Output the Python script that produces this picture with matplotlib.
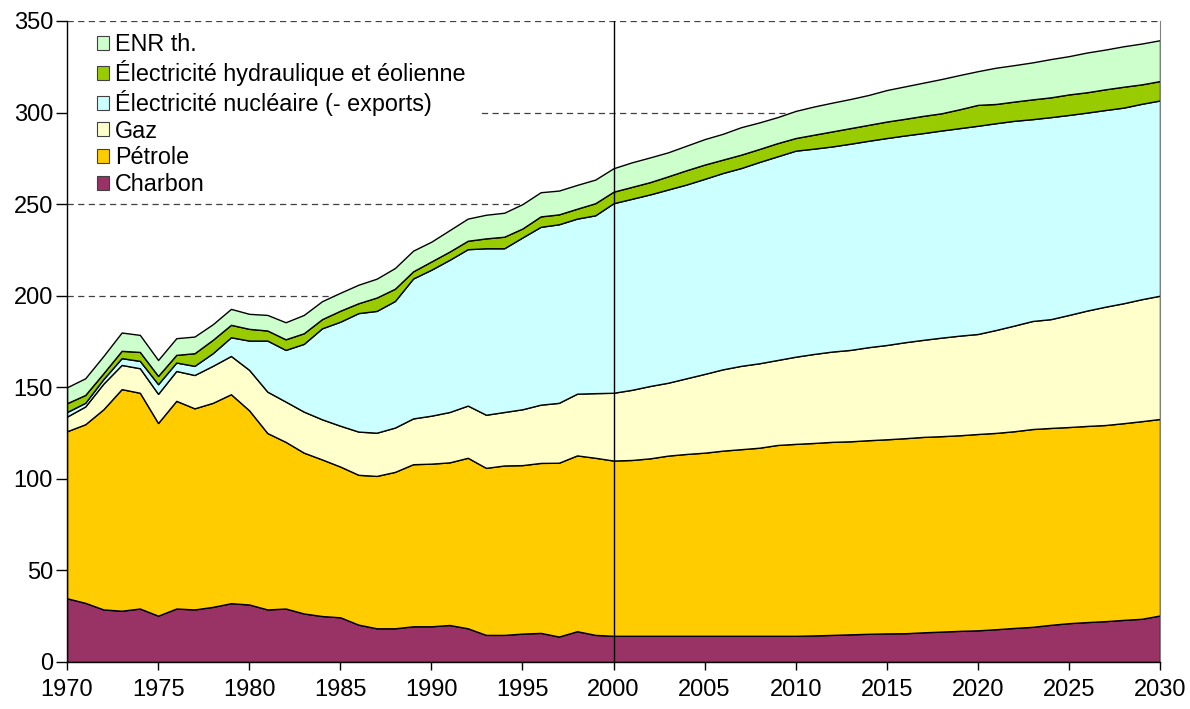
import matplotlib.pyplot as plt
from matplotlib.patches import Rectangle
import numpy as np

plt.rcParams['font.family'] = ['Liberation Sans', 'DejaVu Sans']

years = np.arange(1970, 2031)

charbon = [34.8, 32.3, 28.7, 28.0, 29.2, 25.3, 29.2, 28.7, 30.1, 32.1,
           31.4, 28.7, 29.2, 26.5, 25.1, 24.4, 20.4, 18.4, 18.4, 19.5,
           19.5, 20.2, 18.4, 14.8, 14.8, 15.5, 15.9, 13.9, 16.8, 14.8,
           14.3, 14.3, 14.3, 14.3, 14.3, 14.3, 14.3, 14.3, 14.3, 14.3,
           14.3, 14.5, 14.8, 15.1, 15.4, 15.6, 15.7, 16.2, 16.6, 17.0,
           17.3, 17.9, 18.6, 19.2, 20.3, 21.2, 21.8, 22.3, 23.0, 23.6,
           25.4]
petrole = [91.2, 97.5, 109.3, 121.0, 117.8, 105.2, 113.4, 109.8, 111.4, 114.1,
           106.0, 96.3, 91.0, 87.8, 85.5, 82.3, 81.8, 83.2, 85.4, 88.5,
           88.8, 88.8, 93.1, 91.2, 92.5, 92.0, 92.8, 94.9, 96.0, 96.7,
           95.7, 96.0, 96.9, 98.4, 99.3, 100.0, 101.1, 101.9, 102.7, 104.2,
           104.8, 105.1, 105.4, 105.4, 105.7, 106.0, 106.5, 106.7, 106.7, 106.8,
           107.2, 107.2, 107.4, 108.0, 107.5, 107.1, 107.1, 107.1, 107.4, 107.9,
           107.3]
gaz = [8.0, 9.7, 14.0, 13.2, 13.4, 15.9, 16.3, 18.2, 20.2, 20.9,
       22.1, 22.6, 22.0, 22.4, 21.9, 22.3, 23.6, 23.6, 24.2, 25.0,
       26.2, 27.5, 28.5, 29.0, 29.2, 30.5, 31.8, 32.7, 33.7, 35.3,
       37.0, 38.3, 39.5, 39.8, 41.3, 43.0, 44.4, 45.5, 46.1, 46.4,
       47.6, 48.6, 49.3, 49.9, 50.8, 51.5, 52.4, 53.0, 53.8, 54.4,
       54.6, 56.2, 57.7, 59.0, 59.4, 61.2, 63.0, 64.6, 65.5, 66.6,
       67.3]
nucleaire = [2.5, 2.0, 2.5, 3.7, 4.0, 5.3, 4.6, 5.0, 6.9, 10.2,
             16.0, 27.9, 28.2, 37.0, 49.7, 56.8, 64.7, 66.5, 69.1, 76.4,
             79.7, 83.1, 85.4, 90.9, 89.4, 93.8, 97.1, 97.5, 95.6, 97.1,
             103.5, 104.3, 104.6, 105.5, 105.8, 106.5, 107.2, 108.0, 109.9, 111.2,
             112.5, 112.1, 112.0, 112.6, 112.7, 113.0, 112.9, 112.9, 113.1, 113.3,
             113.7, 112.9, 111.8, 110.2, 110.3, 109.2, 108.1, 107.4, 106.8, 106.7,
             106.6]
hydro = [4.8, 4.3, 3.2, 4.0, 4.9, 4.5, 4.2, 6.9, 7.3, 6.8,
         6.4, 5.5, 5.8, 5.8, 5.0, 6.0, 5.4, 7.3, 6.7, 3.9,
         4.5, 4.5, 4.6, 5.4, 6.3, 4.9, 5.7, 5.4, 5.4, 6.6,
         6.3, 6.5, 6.7, 7.2, 7.8, 7.8, 7.3, 7.3, 7.1, 7.2,
         6.9, 7.6, 8.2, 8.5, 8.7, 9.0, 9.1, 9.4, 9.4, 10.3,
         11.4, 10.5, 10.5, 10.8, 10.8, 11.2, 11.1, 11.3, 11.4, 10.6,
         10.6]
enr = [8.7, 9.1, 9.4, 10.0, 9.3, 8.7, 9.1, 9.1, 8.5, 8.7,
       8.2, 8.5, 9.3, 10.0, 9.8, 9.8, 10.1, 10.3, 11.3, 11.3,
       10.8, 11.7, 12.1, 12.9, 13.1, 13.3, 13.2, 13.0, 13.0, 12.9,
       12.8, 13.4, 13.5, 13.1, 13.4, 13.9, 14.1, 15.0, 14.5, 14.2,
       14.8, 15.4, 15.7, 15.9, 16.3, 17.2, 17.7, 18.1, 18.7, 18.7,
       18.4, 19.8, 19.9, 20.2, 20.9, 20.9, 21.7, 21.7, 22.1, 22.3,
       22.3]

labels = ['Charbon', 'Pétrole', 'Gaz', 'Électricité nucléaire (- exports)',
          'Électricité hydraulique et éolienne', 'ENR th.']
colors = ['#993366', '#FFCC00', '#FFFFCC', '#CCFFFF', '#99CC00', '#CCFFCC']

fig = plt.figure(figsize=(11.9, 7.09), dpi=100)
ax = fig.add_axes([0.0563, 0.0663, 0.9185, 0.9041])

polys = ax.stackplot(years, charbon, petrole, gaz, nucleaire, hydro, enr,
                     labels=labels, colors=colors, edgecolor='black',
                     linewidth=1.0, zorder=2)

ax.set_xlim(1970, 2030)
ax.set_ylim(0, 350)
ax.set_xticks(np.arange(1970, 2031, 5))
ax.set_yticks(np.arange(0, 351, 50))
ax.tick_params(axis='both', labelsize=17, direction='out', length=6, width=1)
ax.tick_params(axis='x', pad=6)
ax.tick_params(axis='y', length=8, pad=2)

ax.yaxis.grid(True, linestyle=(0, (5, 3.5)), color='#404040', linewidth=0.9, zorder=0)
ax.set_axisbelow(True)
ax.axvline(2000, color='black', linewidth=1, zorder=3)

# white background of the legend block (hides the grid line behind it)
ax.add_patch(Rectangle((0, 0.73), 0.378, 0.255, transform=ax.transAxes,
                       facecolor='white', edgecolor='none', zorder=1))

ax.spines['top'].set_visible(False)
ax.spines['right'].set_color('#808080')
ax.spines['left'].set_linewidth(1)
ax.spines['bottom'].set_linewidth(1)

h, l = ax.get_legend_handles_labels()
leg = ax.legend(h[::-1], l[::-1], loc='upper left', bbox_to_anchor=(0.011, 1.008),
                fontsize=16.8, frameon=False, handlelength=0.55, handleheight=0.55,
                handletextpad=0.25, labelspacing=0.16, borderpad=0.25)
for p in leg.legend_handles:
    p.set_edgecolor('#404040')
    p.set_linewidth(0.8)
leg.set_zorder(5)

fig.savefig('out.png', dpi=100)
